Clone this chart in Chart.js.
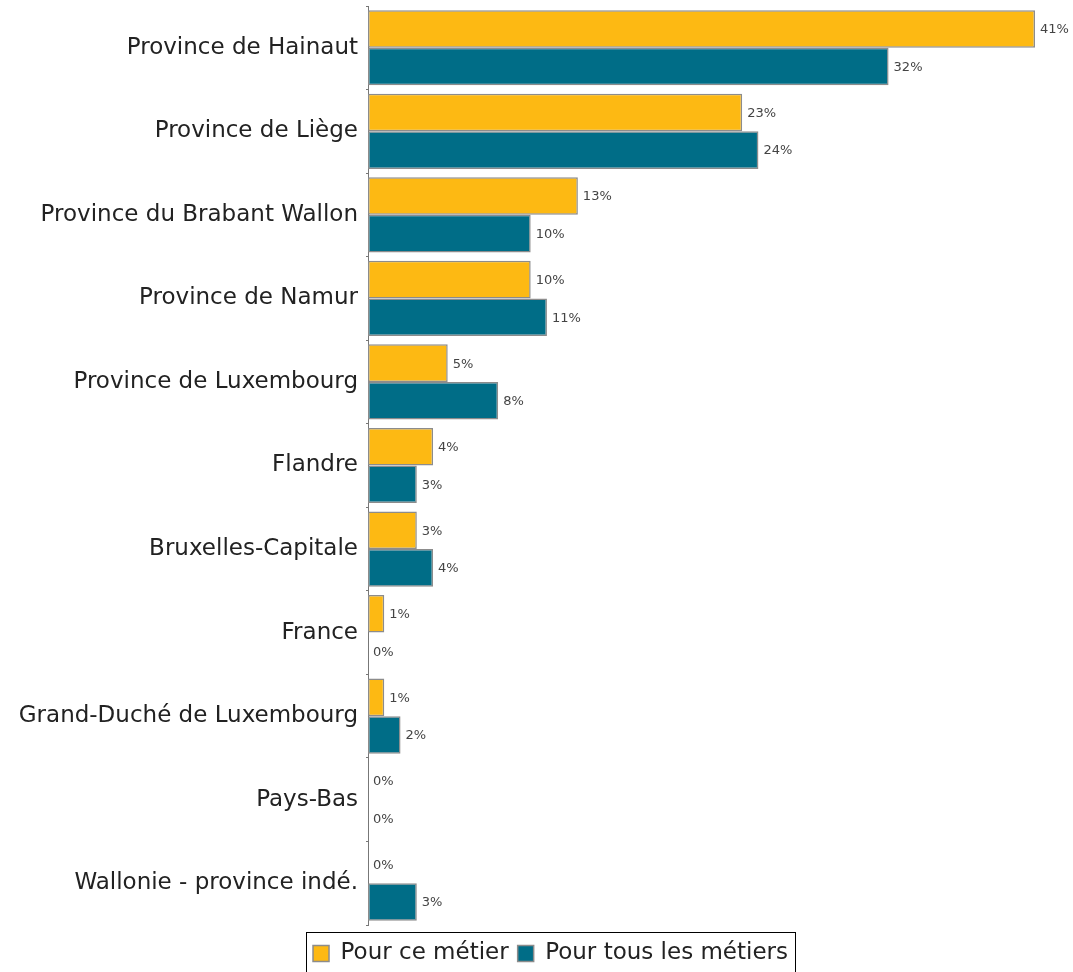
<!DOCTYPE html>
<html>
<head>
<meta charset="utf-8">
<script src="https://cdn.jsdelivr.net/npm/chart.js@4/dist/chart.umd.min.js"></script>
<style>
html,body{margin:0;padding:0;background:#fff;}
#wrap{width:1073px;height:972px;position:relative;}
</style>
</head>
<body>
<div id="wrap"><canvas id="c" width="1073" height="972"></canvas></div>
<script>
const categories = [
  "Province de Hainaut",
  "Province de Liège",
  "Province du Brabant Wallon",
  "Province de Namur",
  "Province de Luxembourg",
  "Flandre",
  "Bruxelles-Capitale",
  "France",
  "Grand-Duché de Luxembourg",
  "Pays-Bas",
  "Wallonie - province indé."
];
const seriesNames = ["Pour ce métier", "Pour tous les métiers"];
const pourCeMetier = [41, 23, 12.9, 10, 4.9, 4, 3, 1, 1, 0, 0];
const pourTousMetiers = [32, 24, 10, 11, 8, 3, 4, 0, 2, 0, 3];
const axisMax = 41;

const FONT = "'DejaVu Sans', Verdana, sans-serif";

const valueLabels = {
  id: 'valueLabels',
  afterDatasetsDraw(chart) {
    const ctx = chart.ctx;
    ctx.save();
    ctx.font = "13px " + FONT;
    ctx.fillStyle = '#444';
    ctx.textBaseline = 'middle';
    ctx.textAlign = 'left';
    chart.data.datasets.forEach((ds, i) => {
      const meta = chart.getDatasetMeta(i);
      meta.data.forEach((bar, j) => {
        const v = ds.data[j];
        ctx.fillText(Math.round(v) + '%', bar.x + 5, bar.y + 1);
      });
    });
    ctx.restore();
  }
};

const legendBox = {
  id: 'legendBox',
  beforeDraw(chart) {
    const lg = chart.legend;
    if (!lg || lg._shifted) return;
    lg._shifted = true;
    lg.left += 33; lg.right += 33;
    lg.top += 3; lg.bottom += 3;
  },
  afterDraw(chart) {
    const lg = chart.legend;
    if (!lg || !lg.lineWidths) return;
    const pad = lg.options.labels.padding;
    const lw = lg.lineWidths[0];
    const x0 = (lg.left + pad + lg.right - lw) / 2;
    const x1 = x0 + lw - pad;
    const l = x0 - 7;
    const r = x1 + 7;
    const t = lg.top + pad - 10;
    const ctx = chart.ctx;
    ctx.save();
    ctx.strokeStyle = '#000';
    ctx.lineWidth = 1;
    ctx.strokeRect(Math.round(l) + 0.5, Math.round(t) + 0.5, Math.round(r - l), 80);
    ctx.restore();
  }
};

new Chart(document.getElementById('c'), {
  type: 'bar',
  data: {
    labels: categories,
    datasets: [
      {
        label: seriesNames[0],
        data: pourCeMetier,
        backgroundColor: '#FDB913',
        borderColor: '#8c8c8c',
        borderWidth: 1.5,
        borderSkipped: false,
        barPercentage: 1.0,
        categoryPercentage: 0.9
      },
      {
        label: seriesNames[1],
        data: pourTousMetiers,
        backgroundColor: '#006D87',
        borderColor: '#8c8c8c',
        borderWidth: 1.5,
        borderSkipped: false,
        barPercentage: 1.0,
        categoryPercentage: 0.9
      }
    ]
  },
  options: {
    indexAxis: 'y',
    responsive: false,
    animation: false,
    devicePixelRatio: 1,
    layout: { padding: { top: 6, right: 38, left: 0, bottom: 0 } },
    scales: {
      x: {
        min: 0,
        max: axisMax,
        display: true,
        ticks: { display: false },
        grid: { display: false },
        border: { display: false },
        afterFit: (s) => { s.height = 5; }
      },
      y: {
        afterFit: (s) => { s.width = 368; s.paddingTop = 0; s.paddingBottom = 0; },
        ticks: {
          color: '#222',
          font: { family: FONT, size: 23 },
          padding: 8
        },
        grid: { drawOnChartArea: false, drawTicks: true, tickLength: 2, color: '#777' },
        border: { display: true, color: '#777', width: 1 }
      }
    },
    plugins: {
      legend: {
        position: 'bottom',
        labels: {
          color: '#222',
          font: { family: FONT, size: 23 },
          boxWidth: 16,
          boxHeight: 16,
          padding: 9
        }
      },
      tooltip: { enabled: false }
    }
  },
  plugins: [valueLabels, legendBox]
});
</script>
</body>
</html>
